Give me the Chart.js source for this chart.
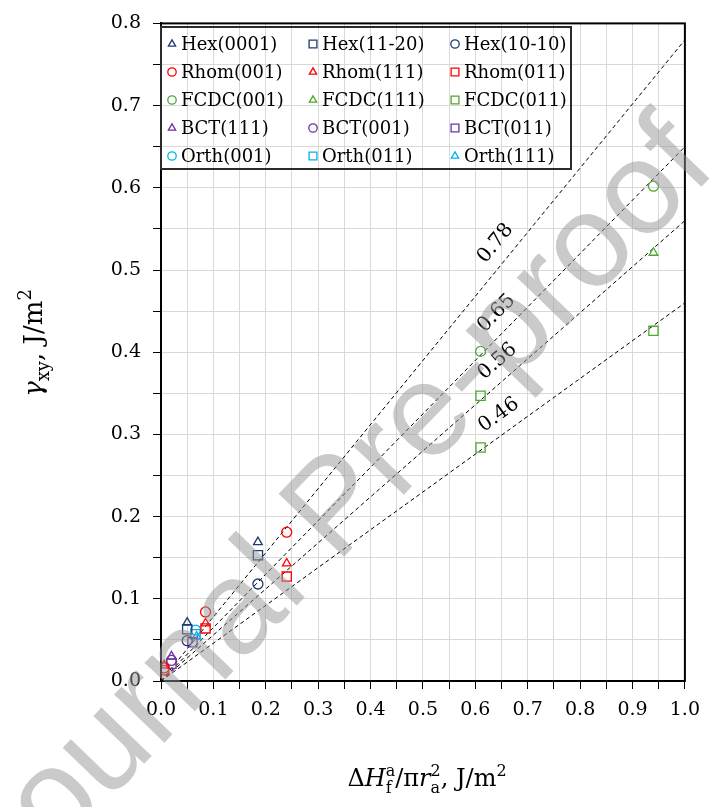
<!DOCTYPE html>
<html>
<head>
<meta charset="utf-8">
<script src="https://cdn.jsdelivr.net/npm/chart.js@4.4.1/dist/chart.umd.min.js"></script>
<style>
  html, body { margin: 0; padding: 0; background: #fff; }
</style>
</head>
<body>
<canvas id="myChart" width="710" height="807"></canvas>
<script>
// series (legend order: 3 columns x 5 rows)
const seriesNames = ['Hex(0001)', 'Hex(11-20)', 'Hex(10-10)',
    'Rhom(001)', 'Rhom(111)', 'Rhom(011)',
    'FCDC(001)', 'FCDC(111)', 'FCDC(011)',
    'BCT(111)', 'BCT(001)', 'BCT(011)',
    'Orth(001)', 'Orth(011)', 'Orth(111)'];
const seriesColors = ['#1F3B73', '#1F3B73', '#1F3B73',
    '#FF0000', '#FF0000', '#FF0000',
    '#4EA72E', '#4EA72E', '#4EA72E',
    '#7030A0', '#7030A0', '#7030A0',
    '#00B0F0', '#00B0F0', '#00B0F0'];
const seriesMarkers = ['triangle', 'rect', 'circle',
    'circle', 'triangle', 'rect',
    'circle', 'triangle', 'rect',
    'triangle', 'circle', 'rect',
    'circle', 'rect', 'triangle'];

const hex0001X = [0.05, 0.185],  hex0001Y = [0.071, 0.169];
const hex1120X = [0.05, 0.185],  hex1120Y = [0.063, 0.153];
const hex1010X = [0.05, 0.185],  hex1010Y = [0.049, 0.118];
const rhom001X = [0.006, 0.085, 0.24], rhom001Y = [0.016, 0.084, 0.181];
const rhom111X = [0.006, 0.085, 0.24], rhom111Y = [0.019, 0.070, 0.143];
const rhom011X = [0.006, 0.085, 0.24], rhom011Y = [0.013, 0.064, 0.127];
const fcdc001X = [0.61, 0.94], fcdc001Y = [0.401, 0.602];
const fcdc111X = [0.94], fcdc111Y = [0.521];
const fcdc011X = [0.61, 0.61, 0.94], fcdc011Y = [0.347, 0.284, 0.426];
const bct111X = [0.02], bct111Y = [0.030];
const bct001X = [0.02], bct001Y = [0.025];
const bct011X = [0.02, 0.06], bct011Y = [0.021, 0.047];
const orth001X = [0.066], orth001Y = [0.062];
const orth011X = [0.066], orth011Y = [0.057];
const orth111X = [0.068], orth111Y = [0.054];

const seriesX = [hex0001X, hex1120X, hex1010X, rhom001X, rhom111X, rhom011X,
    fcdc001X, fcdc111X, fcdc011X, bct111X, bct001X, bct011X, orth001X, orth011X, orth111X];
const seriesY = [hex0001Y, hex1120Y, hex1010Y, rhom001Y, rhom111Y, rhom011Y,
    fcdc001Y, fcdc111Y, fcdc011Y, bct111Y, bct001Y, bct011Y, orth001Y, orth011Y, orth111Y];

// dashed fit lines through origin
const fitSlopes = [0.78, 0.65, 0.56, 0.46];
const fitLabels = ['0.78', '0.65', '0.56', '0.46'];

const xMin = 0, xMax = 1.0, xStep = 0.05;
const yMin = 0, yMax = 0.8, yStep = 0.05;

const serif = '"DejaVu Serif", "Liberation Serif", serif';

const datasets = [];
for (let i = 0; i < seriesNames.length; i++) {
    datasets.push({
        label: seriesNames[i],
        data: seriesX[i].map((x, k) => ({ x: x, y: seriesY[i][k] })),
        pointStyle: seriesMarkers[i],
        pointRadius: seriesMarkers[i] == 'rect' ? 6.5 : 5,
        pointBorderColor: seriesColors[i],
        pointBackgroundColor: 'rgba(0,0,0,0)',
        pointBorderWidth: 1.3,
        showLine: false,
        order: 1
    });
}
for (let i = 0; i < fitSlopes.length; i++) {
    datasets.push({
        label: 'fit ' + fitLabels[i],
        data: [{ x: xMin, y: fitSlopes[i] * xMin }, { x: xMax, y: fitSlopes[i] * xMax }],
        showLine: true,
        borderColor: '#000',
        borderWidth: 1,
        borderDash: [4, 3],
        pointRadius: 0,
        order: 2
    });
}

function tickLabel(value) {
    const n = Math.round(value / 0.05);
    return n % 2 == 0 ? (n * 0.05).toFixed(1) : '';
}

function fontFor(p, size) {
    const s = p.pos ? Math.round(size * 0.68) : size;
    return (p.it ? 'italic ' : '') + s + 'px ' + serif;
}

// draws text with sub/superscripts, centred on (cx, baseline)
function drawRich(ctx, parts, cx, baseline, size) {
    let total = 0, last = 0;
    parts.forEach(p => {
        ctx.font = fontFor(p, size);
        const w = ctx.measureText(p.t).width;
        if (p.stack) { total += Math.max(0, w - last); last = Math.max(w, last); }
        else { total += w; last = w; }
    });
    let x = cx - total / 2, prevX = x;
    last = 0;
    ctx.textAlign = 'left';
    ctx.textBaseline = 'alphabetic';
    parts.forEach(p => {
        ctx.font = fontFor(p, size);
        const w = ctx.measureText(p.t).width;
        let dy = 0;
        if (p.pos == 'sup') dy = -size * 0.42;
        if (p.pos == 'sub') dy = size * 0.28;
        if (p.stack) {
            ctx.fillText(p.t, prevX, baseline + dy);
            x = prevX + Math.max(w, last);
            last = Math.max(w, last);
        } else {
            ctx.fillText(p.t, x, baseline + dy);
            prevX = x;
            x += w;
            last = w;
        }
    });
}

const xTitleParts = [
    { t: 'Δ' }, { t: 'H', it: true }, { t: 'a', pos: 'sup' }, { t: 'f', pos: 'sub', stack: true },
    { t: '/π' }, { t: 'r', it: true }, { t: '2', pos: 'sup' }, { t: 'a', pos: 'sub', stack: true },
    { t: ', J/m' }, { t: '2', pos: 'sup' }
];
const yTitleParts = [
    { t: 'γ', it: true }, { t: 'xy', pos: 'sub' }, { t: ', J/m' }, { t: '2', pos: 'sup' }
];

const extras = {
    id: 'extras',
    afterDraw(chart) {
        const ctx = chart.ctx;
        const a = chart.chartArea;
        const xs = chart.scales.x, ys = chart.scales.y;
        ctx.save();

        // frame
        ctx.strokeStyle = '#000';
        ctx.lineWidth = 2;
        ctx.strokeRect(a.left, a.top, a.right - a.left, a.bottom - a.top);

        // fit line labels
        ctx.fillStyle = '#000';
        ctx.font = '20px ' + serif;
        ctx.textAlign = 'center';
        ctx.textBaseline = 'middle';
        for (let i = 0; i < fitSlopes.length; i++) {
            const px0 = xs.getPixelForValue(0), py0 = ys.getPixelForValue(0);
            const px1 = xs.getPixelForValue(1), py1 = ys.getPixelForValue(fitSlopes[i]);
            const ang = Math.atan2(py1 - py0, px1 - px0);
            const px = xs.getPixelForValue(0.665), py = ys.getPixelForValue(fitSlopes[i] * 0.665);
            ctx.save();
            ctx.translate(px, py);
            ctx.rotate(ang);
            ctx.fillText(fitLabels[i], 0, -18);
            ctx.restore();
        }

        // legend box
        const lx = a.left, ly = 27, lw = 410, lh = 142;
        ctx.strokeStyle = '#2b2b2b';
        ctx.lineWidth = 2;
        ctx.strokeRect(lx, ly, lw, lh);
        ctx.font = '18px ' + serif;
        ctx.textAlign = 'left';
        ctx.textBaseline = 'middle';
        const colX = [172, 313, 455];
        for (let i = 0; i < seriesNames.length; i++) {
            const col = i % 3, row = Math.floor(i / 3);
            const mx = colX[col], my = 44 + row * 28;
            ctx.strokeStyle = seriesColors[i];
            ctx.fillStyle = 'rgba(0,0,0,0)';
            ctx.lineWidth = 1.3;
            Chart.helpers.drawPoint(ctx, {
                pointStyle: seriesMarkers[i],
                radius: seriesMarkers[i] == 'rect' ? 5.5 : 4.2,
                rotation: 0,
                borderWidth: 1.3
            }, mx, my);
            ctx.fillStyle = '#000';
            ctx.fillText(seriesNames[i], mx + 9, my + 1);
        }

        // axis titles
        ctx.fillStyle = '#000';
        drawRich(ctx, xTitleParts, 427, 786, 24);
        ctx.save();
        ctx.translate(42, 343);
        ctx.rotate(-Math.PI / 2);
        drawRich(ctx, yTitleParts, 0, 0, 26);
        ctx.restore();

        // watermark
        ctx.save();
        ctx.translate(340, 512);
        ctx.rotate(-46 * Math.PI / 180);
        ctx.font = '132px "Liberation Sans", Arial, sans-serif';
        ctx.fillStyle = 'rgba(150,150,150,0.5)';
        ctx.textAlign = 'center';
        ctx.textBaseline = 'alphabetic';
        ctx.fillText('Journal Pre-proof', 0, 34);
        ctx.restore();

        ctx.restore();
    }
};

const config = {
    type: 'scatter',
    data: { datasets: datasets },
    options: {
        responsive: false,
        animation: false,
        layout: { padding: { left: 0, top: 18, right: 20, bottom: 0 } },
        plugins: {
            legend: { display: false },
            tooltip: { enabled: false }
        },
        scales: {
            x: {
                type: 'linear',
                min: xMin,
                max: xMax,
                ticks: {
                    stepSize: xStep,
                    autoSkip: false,
                    maxRotation: 0,
                    color: '#000',
                    font: { family: serif, size: 19 },
                    padding: 10,
                    callback: tickLabel
                },
                grid: { color: '#d9d9d9', lineWidth: 1, tickColor: '#000', tickLength: 8 },
                border: { color: '#000', width: 2 },
                afterFit: function(scale) { scale.height = 126; }
            },
            y: {
                type: 'linear',
                min: yMin,
                max: yMax,
                ticks: {
                    stepSize: yStep,
                    autoSkip: false,
                    color: '#000',
                    font: { family: serif, size: 19 },
                    padding: 12,
                    callback: tickLabel
                },
                grid: { color: '#d9d9d9', lineWidth: 1, tickColor: '#000', tickLength: 8 },
                border: { color: '#000', width: 2 },
                afterFit: function(scale) { scale.width = 161; }
            }
        }
    },
    plugins: [extras]
};

const myChart = new Chart(document.getElementById('myChart'), config);
</script>
</body>
</html>
